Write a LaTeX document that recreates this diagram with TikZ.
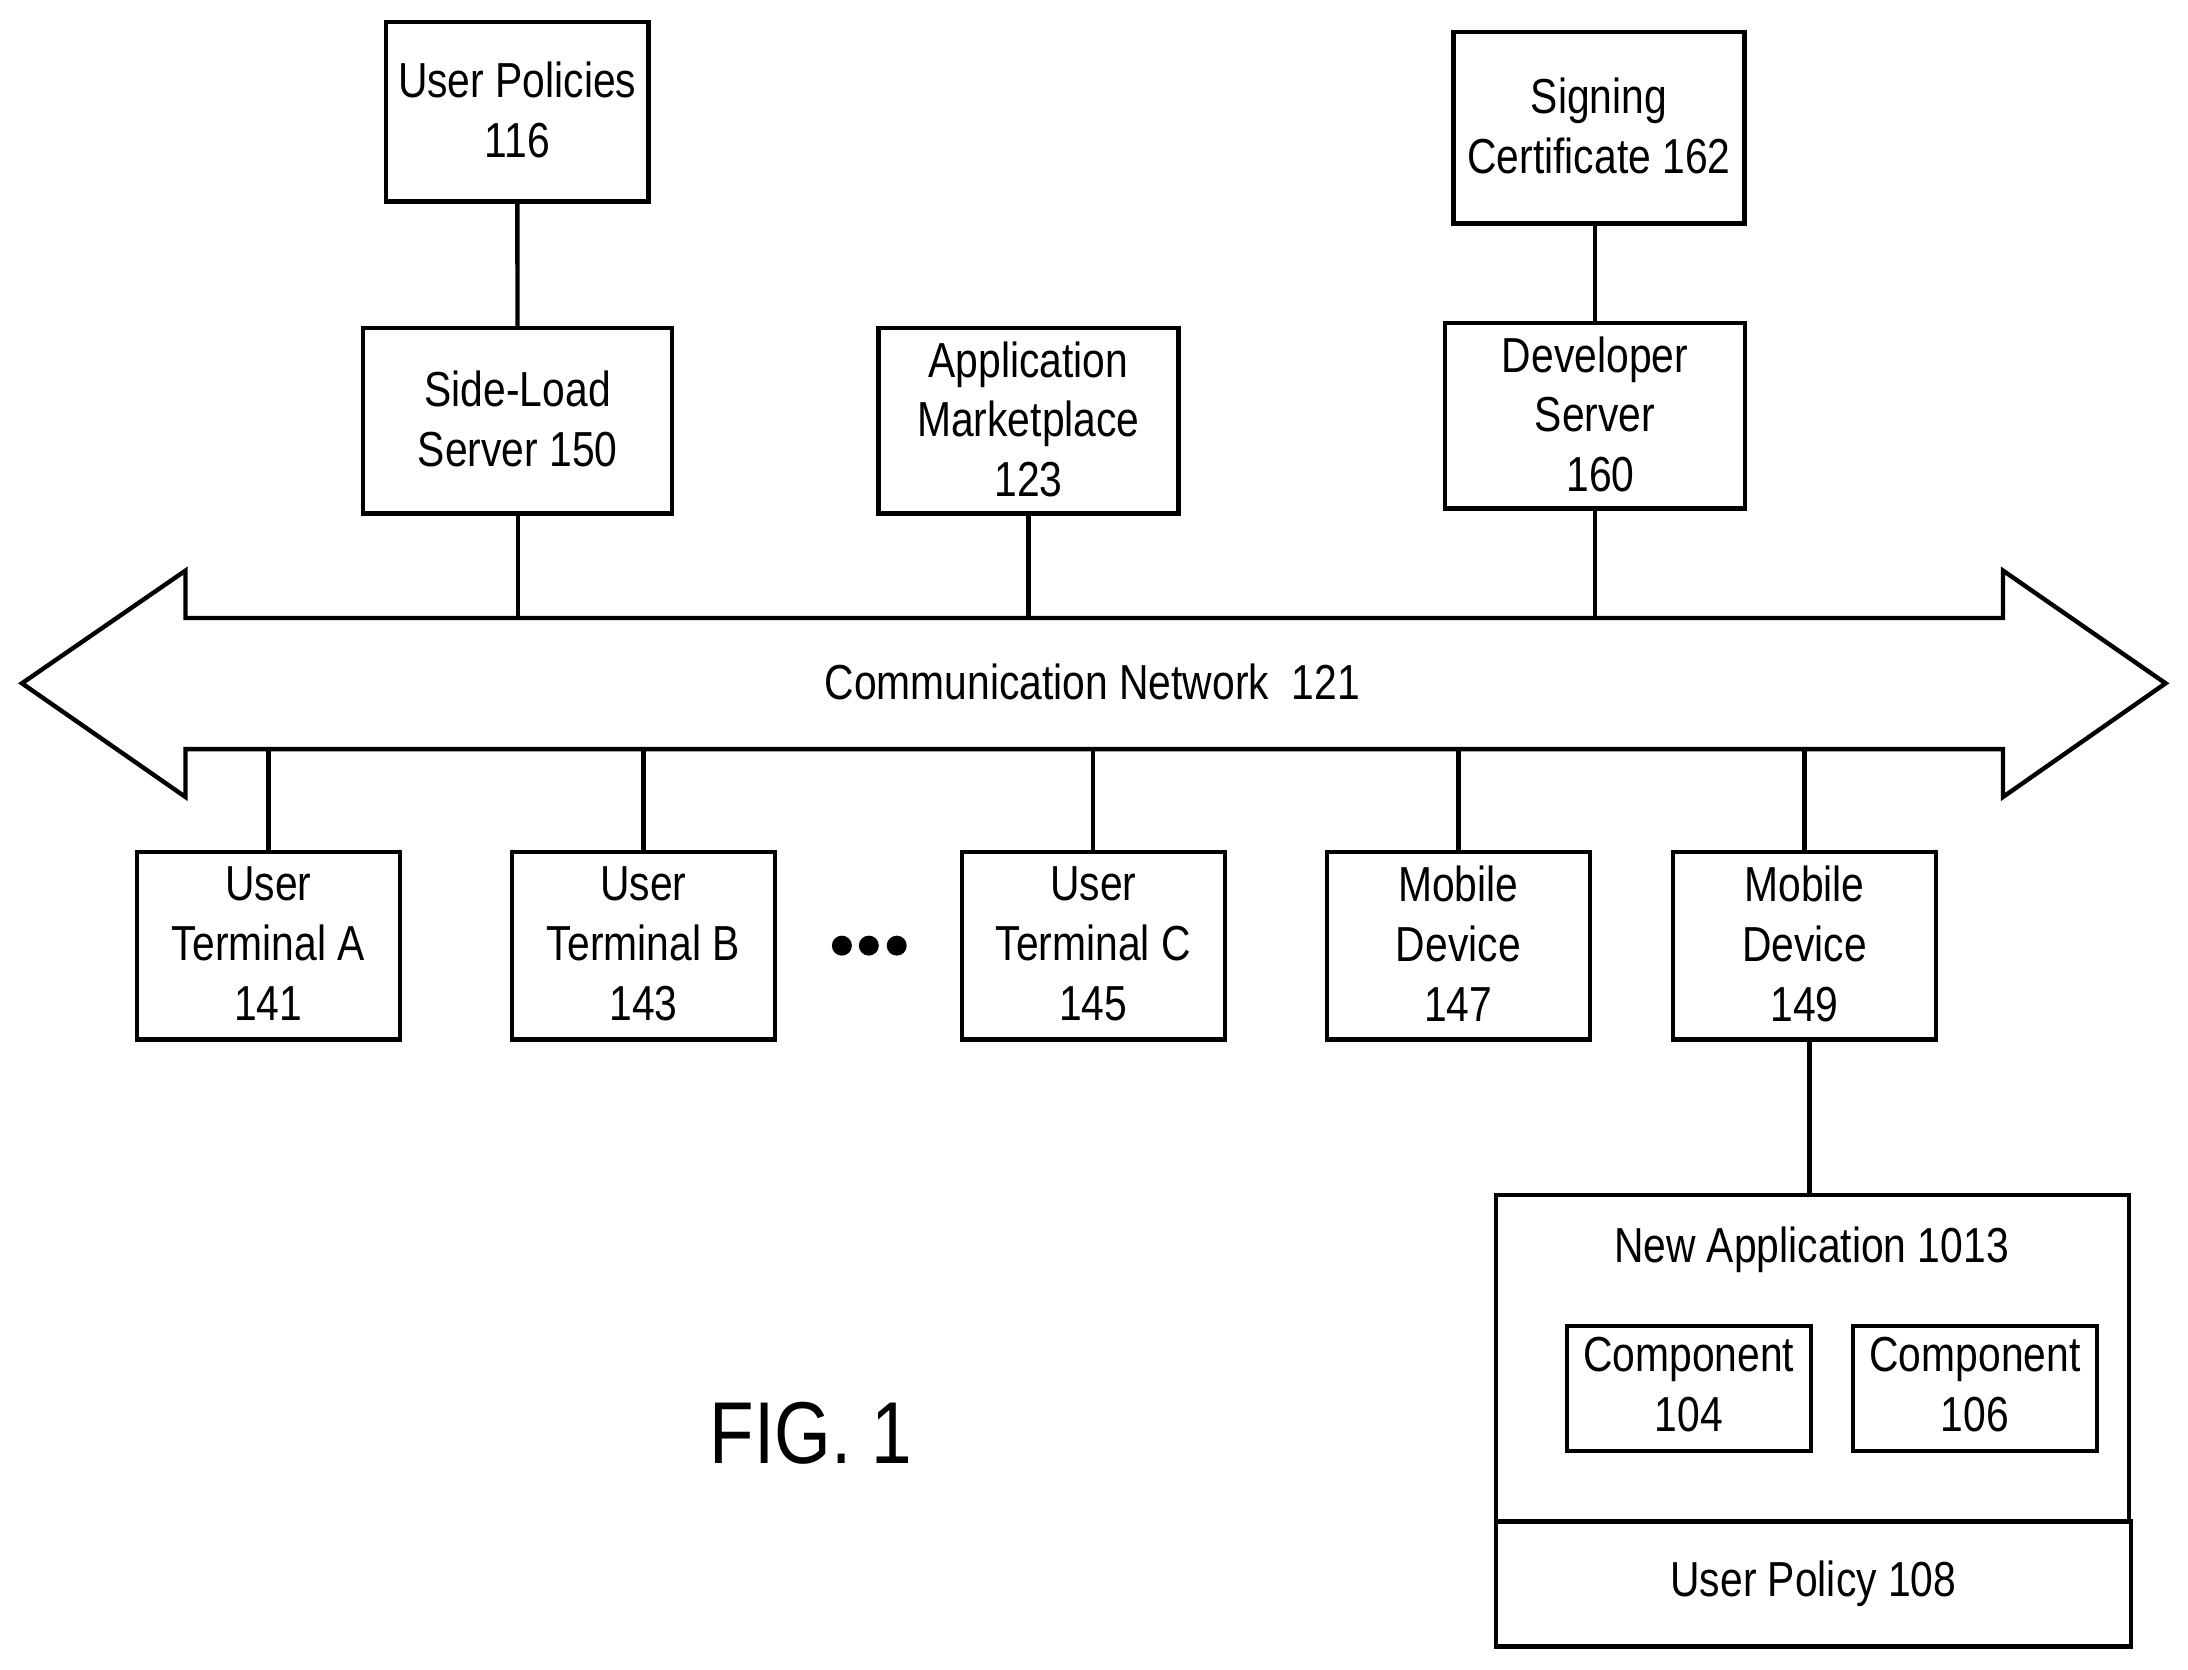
\documentclass[tikz,border=0pt]{standalone}
\usepackage{fontspec}
\setmainfont[FakeStretch=0.83]{Liberation Sans}
\newcommand{\labelfont}{\fontsize{14}{17}\selectfont}
\newcommand{\figfont}{\fontsize{25}{29}\selectfont}

\begin{document}
\begin{tikzpicture}[
            x=0.009975cm,
            y=-0.009975cm,
            line width=0.044cm,
            every node/.style={
              font=\labelfont,
              align=center,
              inner sep=0pt,
              execute at end node={\rule[-0.04cm]{0pt}{0pt}},
            },
            boxnode/.style={
              draw,
              minimum width=2.63cm,
              minimum height=1.875cm,
            },
            topbox/.style={
              boxnode,
              minimum height=1.855cm,
            },
            partbox/.style={
              boxnode,
              minimum width=2.44cm,
              minimum height=1.25cm,
              execute at end node={\rule[-0.09cm]{0pt}{0pt}},
            },
          ]
          \useasboundingbox (0,0) rectangle (2193.5,1673.2) ;
          % upper row
          \node[boxnode,minimum height=1.80cm] at (518.5,112) (policies) {User Policies\\116} ;
          \node[topbox,minimum width=3.09cm] at (519,422) (sideload) {Side-Load\\Server 150} ;
          \node[topbox,minimum width=3.00cm] at (1031,422) (market) {Application\\Marketplace\\123} ;
          \node[topbox,minimum width=3.00cm] at (1599,417) (devserver) {Developer\\Server\\\hspace*{0.11cm}160} ;
          \node[boxnode,minimum width=2.91cm,minimum height=1.92cm] at (1603,128) (signcert) {Signing\\Certificate 162} ;
          % network arrow
          \coordinate (nettop) at (1095,619.5) ;
          \coordinate (netbot) at (1095,751) ;
          \draw (22,685) -- (186,572) -- (186,619.5) -- (nettop) -- (2008,619.5) -- (2008,572)
            -- (2171,685) -- (2008,799) -- (2008,751) -- (netbot) -- (186,751) -- (186,799) -- cycle ;
          \node at (1095,685) (network) {Communication Network\ \ 121} ;
          % lower row
          \node[boxnode] at (269,948) (terma) {User\\Terminal A\\141} ;
          \node[boxnode] at (645,948) (termb) {User\\Terminal B\\143} ;
          \node[boxnode] at (1096,948) (termc) {User\\Terminal C\\145} ;
          \node[boxnode] at (1462,948) (device147) {Mobile\\Device\\147} ;
          \node[boxnode] at (1809,948) (device149) {Mobile\\Device\\149} ;
          \node[circle,fill,minimum size=0.2cm] at (844,948) (dota) {} ;
          \node[circle,fill,minimum size=0.2cm] at (871,948) (dotb) {} ;
          \node[circle,fill,minimum size=0.2cm] at (899,948) (dotc) {} ;
          % application
          \node[draw,minimum width=6.33cm,minimum height=3.27cm] at (1817,1362) (newapp) {} ;
          \node[draw,minimum width=6.35cm,minimum height=1.25cm] at (1818,1588) (userpolicy) {User Policy 108} ;
          \node at (1816,1253) (newapplabel) {New Application 1013} ;
          \node[partbox] at (1693,1392) (comp104) {Component\\104} ;
          \node[partbox] at (1980,1392) (comp106) {Component\\106} ;
          \coordinate (applink) at (1814,1198) ;
          \node[font=\figfont] at (813,1438) (figlabel) {FIG. 1} ;
          % connectors
          \draw (policies)--(sideload) ;
          \draw (devserver.north)--(devserver.north |- signcert.south) ;
          \draw (sideload.south)--(sideload.south |- nettop) ;
          \draw (market.south)--(market.south |- nettop) ;
          \draw (devserver.south)--(devserver.south |- nettop) ;
          \draw (terma.north)--(terma.north |- netbot) ;
          \draw (termb.north)--(termb.north |- netbot) ;
          \draw (termc.north)--(termc.north |- netbot) ;
          \draw (device147.north)--(device147.north |- netbot) ;
          \draw (device149.north)--(device149.north |- netbot) ;
          \draw (device149.south -| applink)--(applink) ;
          \end{tikzpicture}
\end{document}
